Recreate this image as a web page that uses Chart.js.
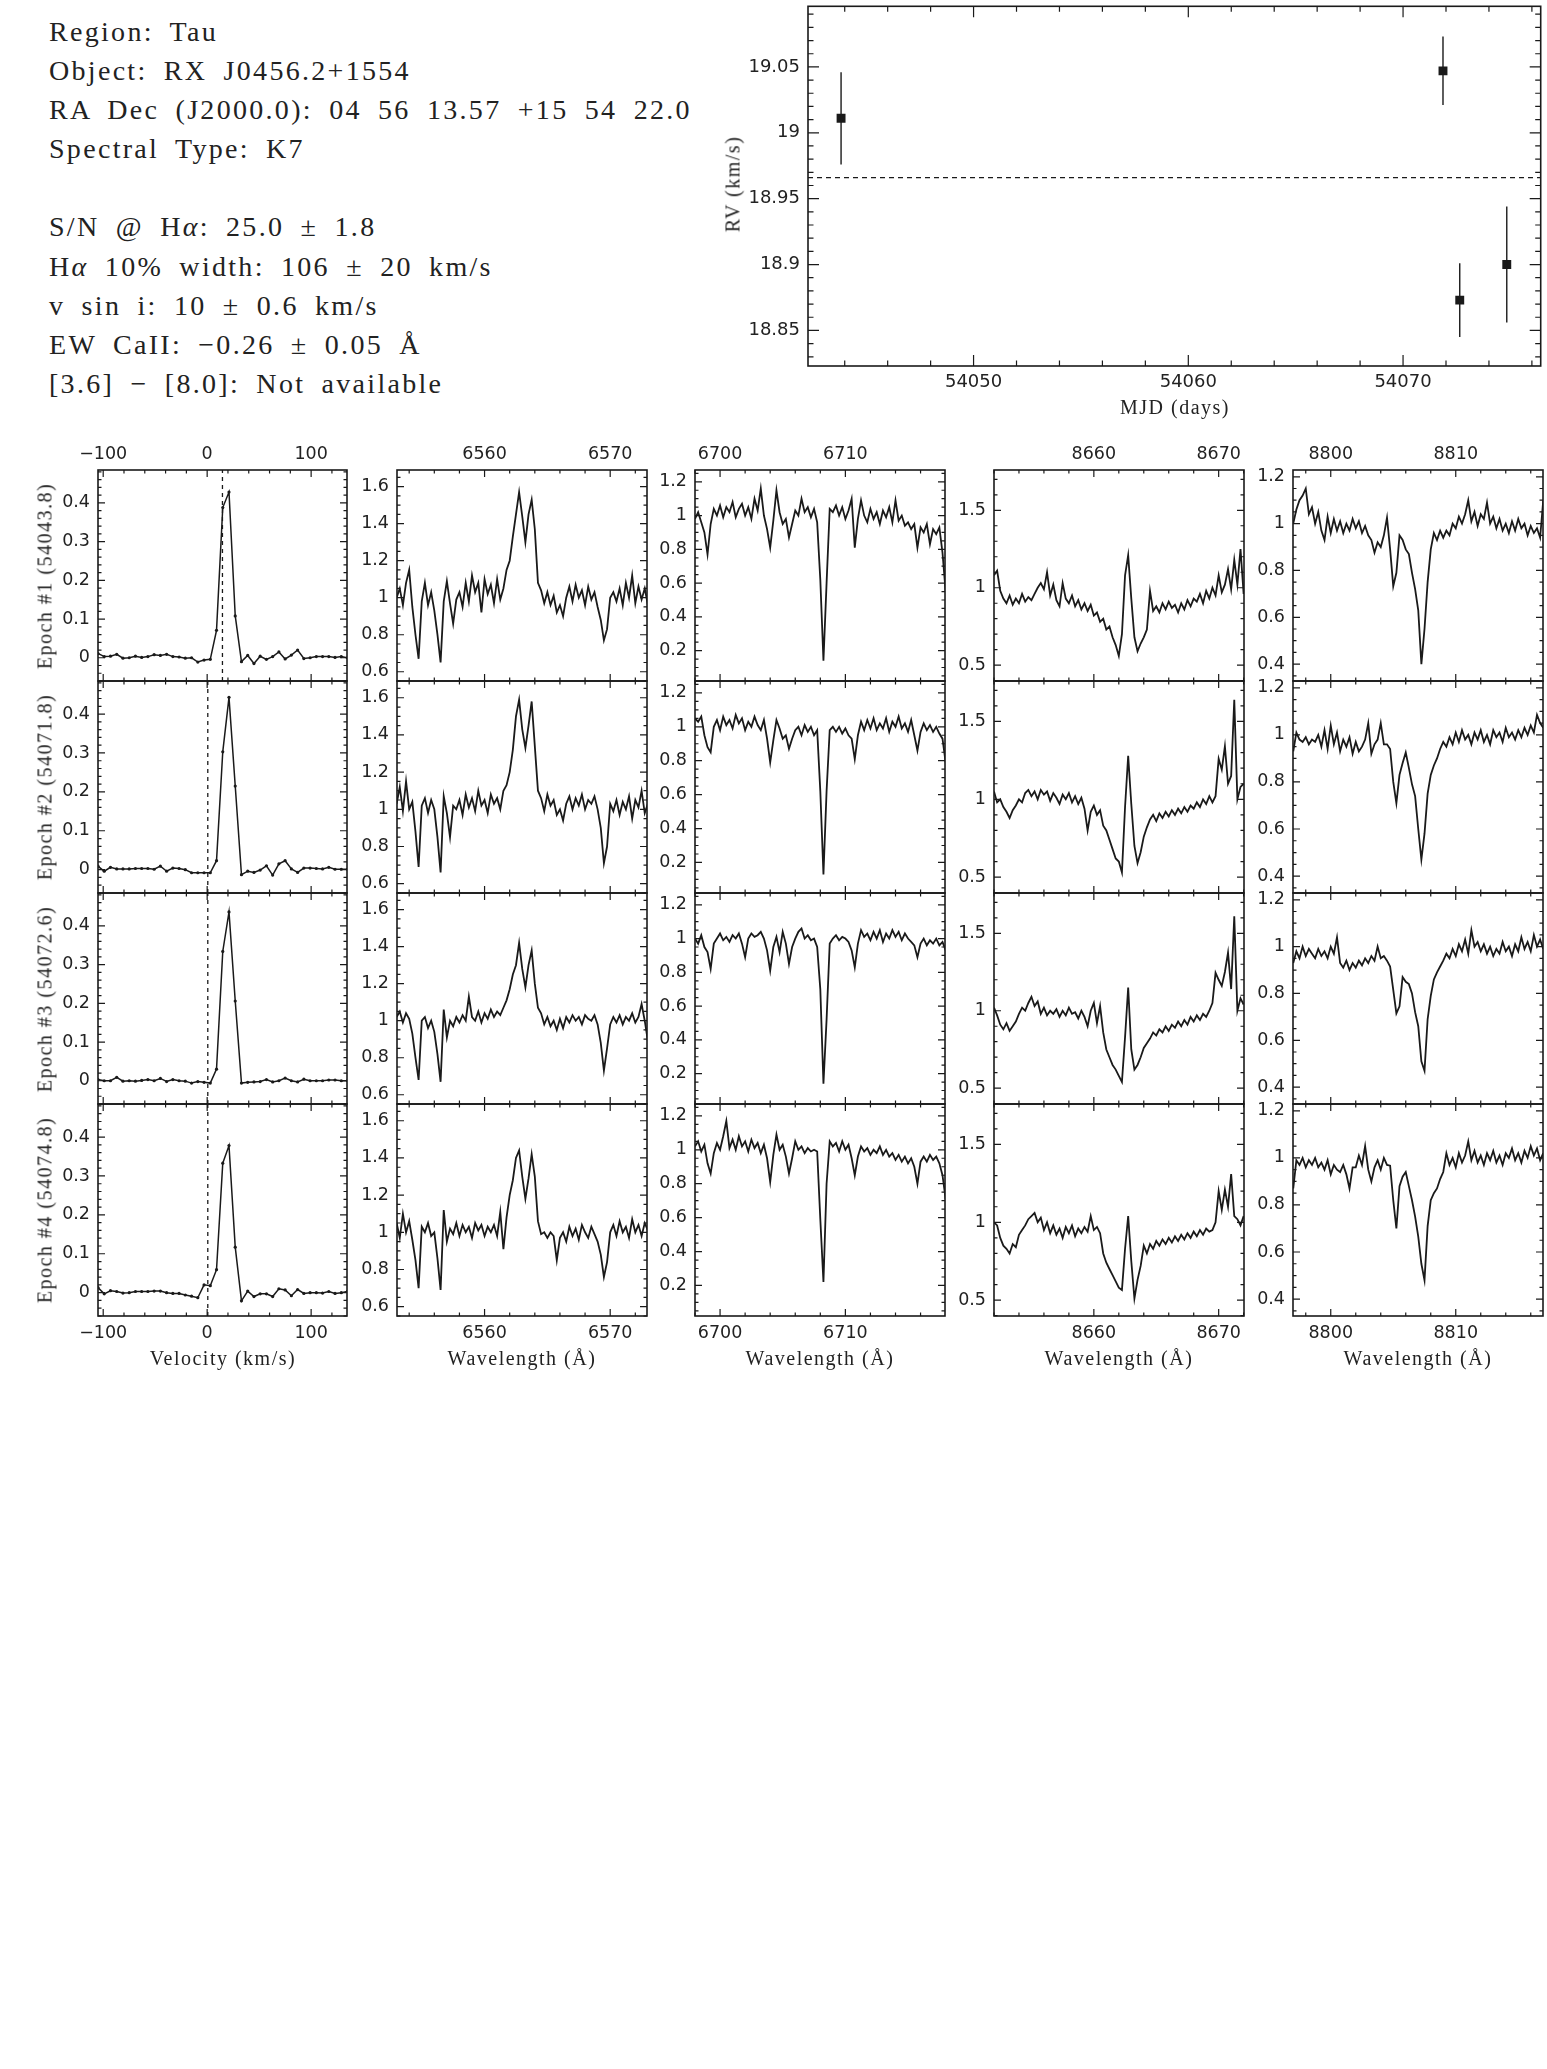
<!DOCTYPE html>
<html>
<head>
<meta charset="utf-8">
<title>RX J0456.2+1554</title>
<script src="https://cdn.jsdelivr.net/npm/chart.js@4.4.1/dist/chart.umd.min.js"></script>
<style>
  body { margin: 0; background: #fff; }
  #page { position: relative; width: 1547px; height: 2069px; overflow: hidden; background: #fff; }
  #page canvas { position: absolute; }
  .info { position: absolute; left: 49px; top: 12px; font-family: 'Liberation Serif', serif; font-size: 28px;
          line-height: 39.1px; letter-spacing: 2.3px; word-spacing: 7px; color: #222; white-space: pre; }
  .title { position: absolute; font-family: 'Liberation Serif', serif; font-size: 20px; letter-spacing: 1.5px;
           color: #222; white-space: nowrap; transform: translate(-50%, -50%); }
  .title.rot { transform: translate(-50%, -50%) rotate(-90deg); }
</style>
</head>
<body>
<div id="page">
<div class="info">Region: Tau
Object: RX J0456.2+1554
RA Dec (J2000.0): 04 56 13.57 +15 54 22.0
Spectral Type: K7

S/N @ H<i>α</i>: 25.0 ± 1.8
H<i>α</i> 10% width: 106 ± 20 km/s
v sin i: 10 ± 0.6 km/s
EW CaII: −0.26 ± 0.05 Å
[3.6] − [8.0]: Not available</div>
</div>
<script>
/* RX J0456.2+1554 – RV curve, CCF and line profiles per epoch */

// ── Radial velocity ───────────────────────────────────────────────
const MJD = [54043.83, 54071.86, 54072.64, 54074.83];
const RV = [19.011, 19.047, 18.873, 18.900];
const RV_ERR = [0.035, 0.026, 0.028, 0.044];
const RV_MEAN = 18.966;
const MJD_TICKS = [54050, 54060, 54070];
const RV_TICKS = [18.85, 18.9, 18.95, 19, 19.05];

const EPOCHS = ['Epoch #1 (54043.8)', 'Epoch #2 (54071.8)', 'Epoch #3 (54072.6)', 'Epoch #4 (54074.8)'];

// ── Cross-correlation functions ───────────────────────────────────
const VEL = [-105, -99, -93, -87, -81, -75, -69, -63, -57, -51, -45, -39, -33, -27, -21, -15, -9, -3, 3, 9,
  15, 21, 27, 33, 39, 45, 51, 57, 63, 69, 75, 81, 87, 93, 99, 105, 111, 117, 123, 129, 135];
const CCF_1 = [0.011, 0.003, 0.004, 0.009, -0.001, 0.000, 0.004, 0.001, 0.003, 0.008, 0.006, 0.009, 0.003, 0.002,
  -0.001, 0.000, -0.011, -0.006, -0.004, 0.071, 0.388, 0.428, 0.108, -0.010, 0.006, -0.015, 0.004, -0.004,
  0.003, 0.015, -0.003, 0.007, 0.020, -0.002, 0.000, 0.003, 0.003, 0.003, 0.001, 0.003, 0.000];
const CCF_2 = [0.009, -0.004, 0.006, 0.002, 0.002, 0.002, 0.003, 0.003, 0.003, 0.001, 0.009, -0.004, 0.004, 0.003,
  0.000, -0.008, -0.008, -0.008, -0.008, 0.023, 0.303, 0.443, 0.215, -0.013, -0.004, -0.007, -0.001, 0.010,
  -0.014, 0.015, 0.023, 0.002, -0.007, 0.004, 0.004, 0.003, 0.002, 0.006, 0.001, 0.001, 0.001];
const CCF_3 = [0.003, 0.000, 0.000, 0.009, -0.001, 0.000, -0.001, 0.001, 0.003, 0.000, 0.006, -0.002, 0.003, 0.000,
  -0.001, -0.006, -0.002, -0.004, -0.006, 0.030, 0.334, 0.436, 0.206, -0.006, -0.004, -0.003, -0.002, 0.003,
  -0.003, 0.000, 0.007, 0.000, -0.003, 0.004, 0.000, 0.000, 0.000, 0.002, 0.002, 0.000, 0.000];
const CCF_4 = [0.013, -0.003, 0.005, 0.003, -0.001, 0.000, 0.003, 0.003, 0.003, 0.004, 0.004, 0.000, -0.002, -0.002,
  -0.006, -0.009, -0.013, 0.020, 0.018, 0.059, 0.333, 0.378, 0.117, -0.021, 0.004, -0.010, -0.003, -0.003,
  -0.010, 0.010, 0.007, -0.008, 0.008, -0.002, 0.000, 0.000, -0.001, 0.003, -0.002, 0.000, 0.003];
const CCF_ZERO = [14.7, 0.6, 0.6, 0.6];
const VEL_TICKS = [-100, 0, 100];
const CCF_TICKS = [0, 0.1, 0.2, 0.3, 0.4];

// ── H alpha ───────────────────────────────────────────────────────
const W_HA = [6553, 6553.25, 6553.5, 6553.75, 6554, 6554.25, 6554.5, 6554.75, 6555, 6555.25,
  6555.5, 6555.75, 6556, 6556.25, 6556.5, 6556.75, 6557, 6557.25, 6557.5, 6557.75,
  6558, 6558.25, 6558.5, 6558.75, 6559, 6559.25, 6559.5, 6559.75, 6560, 6560.25,
  6560.5, 6560.75, 6561, 6561.25, 6561.5, 6561.75, 6562, 6562.25, 6562.5, 6562.75,
  6563, 6563.25, 6563.5, 6563.75, 6564, 6564.25, 6564.5, 6564.75, 6565, 6565.25,
  6565.5, 6565.75, 6566, 6566.25, 6566.5, 6566.75, 6567, 6567.25, 6567.5, 6567.75,
  6568, 6568.25, 6568.5, 6568.75, 6569, 6569.25, 6569.5, 6569.75, 6570, 6570.25,
  6570.5, 6570.75, 6571, 6571.25, 6571.5, 6571.75, 6572, 6572.25, 6572.5, 6572.75, 6573];
const HA_1 = [1.00, 1.05, 0.96, 1.08, 1.15, 0.95, 0.80, 0.67, 0.98, 1.08,
  0.96, 1.03, 0.93, 0.80, 0.65, 0.98, 1.09, 0.97, 0.86, 0.99,
  1.03, 0.95, 1.08, 0.98, 1.12, 1.03, 1.08, 0.92, 1.10, 1.02,
  1.07, 0.97, 1.10, 0.99, 1.05, 1.15, 1.20, 1.33, 1.45, 1.57,
  1.44, 1.30, 1.45, 1.53, 1.37, 1.08, 1.04, 0.97, 1.03, 0.96,
  1.01, 0.92, 0.96, 0.90, 1.00, 1.06, 0.98, 1.07, 1.00, 1.04,
  0.96, 1.06, 0.99, 1.03, 0.95, 0.88, 0.77, 0.83, 1.00, 1.03,
  0.98, 1.05, 0.96, 1.08, 1.00, 1.12, 0.97, 1.06, 0.99, 1.05, 0.96];
const HA_2 = [1.03, 1.12, 0.99, 1.15, 1.00, 1.04, 0.88, 0.69, 1.02, 1.06,
  0.98, 1.05, 1.00, 0.85, 0.66, 1.07, 0.98, 0.85, 1.02, 1.00,
  1.05, 0.97, 1.08, 1.01, 1.06, 0.99, 1.10, 1.02, 1.05, 0.98,
  1.08, 1.03, 1.06, 1.00, 1.10, 1.13, 1.20, 1.32, 1.50, 1.59,
  1.43, 1.33, 1.45, 1.58, 1.34, 1.10, 1.06, 0.99, 1.08, 1.02,
  1.05, 0.97, 1.00, 0.94, 1.03, 1.07, 1.00, 1.06, 1.02, 1.08,
  1.00, 1.05, 1.03, 1.07, 1.00, 0.90, 0.71, 0.80, 1.03, 0.99,
  1.05, 0.97, 1.04, 1.00, 1.07, 0.95, 1.05, 1.01, 1.10, 0.98, 1.03];
const HA_3 = [1.02, 1.05, 0.99, 1.04, 1.01, 0.93, 0.80, 0.68, 1.00, 1.02,
  0.96, 1.00, 0.94, 0.82, 0.67, 1.06, 0.91, 1.00, 0.97, 1.02,
  0.99, 1.03, 1.00, 1.13, 1.02, 1.00, 1.05, 0.99, 1.04, 1.01,
  1.06, 1.02, 1.05, 1.03, 1.07, 1.11, 1.17, 1.25, 1.30, 1.42,
  1.28, 1.18, 1.30, 1.38, 1.20, 1.07, 1.04, 0.98, 1.02, 0.97,
  1.00, 0.95, 1.01, 0.96, 1.02, 0.99, 1.03, 1.00, 1.02, 0.98,
  1.03, 1.01, 1.00, 1.03, 0.98, 0.88, 0.73, 0.85, 0.98, 1.02,
  0.99, 1.03, 0.98, 1.02, 1.00, 1.04, 0.99, 1.02, 1.09, 1.00, 0.89];
const HA_4 = [1.05, 0.97, 1.10, 1.00, 1.06, 0.96, 0.85, 0.70, 1.03, 1.00,
  1.05, 0.98, 1.00, 0.86, 0.69, 1.12, 0.95, 1.02, 0.99, 1.05,
  0.98, 1.04, 1.00, 1.03, 0.97, 1.05, 1.01, 1.04, 0.98, 1.03,
  1.00, 1.04, 0.98, 1.11, 0.91, 1.08, 1.20, 1.28, 1.40, 1.44,
  1.30, 1.18, 1.29, 1.42, 1.30, 1.06, 0.99, 1.00, 0.97, 1.00,
  0.98, 0.85, 0.97, 1.00, 0.95, 1.03, 0.98, 1.02, 0.96, 1.04,
  1.00, 0.97, 1.03, 0.99, 0.95, 0.88, 0.76, 0.84, 1.00, 1.04,
  0.98, 1.06, 1.00, 1.03, 0.97, 1.07, 1.00, 1.04, 0.98, 1.05, 1.01];
const HA_XTICKS = [6560, 6570];
const HA_YTICKS = [0.6, 0.8, 1, 1.2, 1.4, 1.6];

// ── Li I 6708 ─────────────────────────────────────────────────────
const W_LI = [6698, 6698.25, 6698.5, 6698.75, 6699, 6699.25, 6699.5, 6699.75, 6700, 6700.25,
  6700.5, 6700.75, 6701, 6701.25, 6701.5, 6701.75, 6702, 6702.25, 6702.5, 6702.75,
  6703, 6703.25, 6703.5, 6703.75, 6704, 6704.25, 6704.5, 6704.75, 6705, 6705.25,
  6705.5, 6705.75, 6706, 6706.25, 6706.5, 6706.75, 6707, 6707.25, 6707.5, 6707.75,
  6708, 6708.25, 6708.5, 6708.75, 6709, 6709.25, 6709.5, 6709.75, 6710, 6710.25,
  6710.5, 6710.75, 6711, 6711.25, 6711.5, 6711.75, 6712, 6712.25, 6712.5, 6712.75,
  6713, 6713.25, 6713.5, 6713.75, 6714, 6714.25, 6714.5, 6714.75, 6715, 6715.25,
  6715.5, 6715.75, 6716, 6716.25, 6716.5, 6716.75, 6717, 6717.25, 6717.5, 6717.75, 6718];
const LI_1 = [0.98, 1.02, 0.96, 0.90, 0.77, 0.95, 1.04, 1.00, 1.06, 0.99,
  1.05, 1.02, 1.08, 0.99, 1.04, 1.07, 1.00, 1.05, 0.98, 1.10,
  1.03, 1.16, 1.00, 0.92, 0.81, 0.97, 1.15, 1.02, 0.95, 0.98,
  0.87, 0.95, 1.03, 1.00, 1.10, 1.02, 1.05, 0.99, 1.04, 0.96,
  0.62, 0.14, 0.60, 1.04, 1.02, 1.06, 1.00, 1.05, 0.98, 1.03,
  1.10, 0.81, 0.98, 1.09, 1.00, 0.96, 1.04, 0.98, 1.02, 0.95,
  1.03, 0.99, 1.05, 0.96, 1.09, 0.97, 1.00, 0.94, 0.96, 0.92,
  0.95, 0.81, 0.93, 0.90, 0.95, 0.83, 0.92, 0.89, 0.93, 0.78, 0.55];
const LI_2 = [1.05, 1.03, 1.06, 0.95, 0.88, 0.85, 1.00, 1.04, 0.98, 1.06,
  1.01, 1.04, 0.99, 1.07, 1.02, 1.05, 0.98, 1.03, 1.00, 1.06,
  1.01, 0.98, 1.04, 0.93, 0.79, 0.92, 1.04, 0.99, 0.93, 0.95,
  0.87, 0.93, 0.98, 1.00, 0.95, 1.01, 0.97, 1.00, 0.95, 0.98,
  0.62, 0.13, 0.62, 0.98, 1.00, 0.97, 1.00, 0.96, 0.99, 0.95,
  0.93, 0.81, 0.95, 1.03, 0.98, 1.04, 0.99, 1.05, 0.98, 1.02,
  0.99, 1.05, 0.97, 1.03, 1.00, 1.06, 0.99, 1.02, 0.97, 1.04,
  0.95, 0.86, 0.97, 1.02, 0.98, 1.01, 0.97, 1.00, 0.96, 0.93, 0.79];
const LI_3 = [1.00, 0.97, 1.02, 0.95, 0.92, 0.82, 0.97, 1.00, 1.03, 0.99,
  1.01, 0.98, 1.02, 1.00, 1.03, 0.97, 0.89, 1.00, 1.03, 1.01,
  1.02, 1.04, 1.00, 0.93, 0.81, 0.95, 1.01, 0.92, 1.04, 0.97,
  0.85, 0.95, 1.00, 1.04, 1.06, 1.00, 1.02, 0.99, 1.00, 0.95,
  0.70, 0.14, 0.52, 0.97, 1.00, 1.02, 0.99, 1.01, 1.00, 0.98,
  0.93, 0.83, 0.97, 1.05, 1.01, 1.03, 0.99, 1.04, 1.00, 1.05,
  0.98, 1.03, 1.00, 1.05, 1.01, 1.04, 0.99, 1.03, 1.00, 0.98,
  0.96, 0.89, 0.97, 1.00, 0.96, 0.99, 0.97, 1.00, 0.96, 0.98, 0.93];
const LI_4 = [1.02, 1.05, 0.99, 1.03, 0.92, 0.86, 0.98, 1.04, 1.00, 1.08,
  1.17, 1.01, 1.06, 1.00, 1.08, 1.02, 1.05, 0.99, 1.06, 1.01,
  1.04, 0.98, 1.03, 0.95, 0.81, 0.97, 1.09, 1.00, 1.03, 0.96,
  0.86, 0.95, 1.05, 1.00, 1.02, 0.98, 1.01, 0.99, 1.00, 0.99,
  0.59, 0.22, 0.80, 1.05, 1.02, 1.04, 0.99, 1.05, 1.00, 1.03,
  0.95, 0.85, 0.96, 1.02, 0.99, 1.01, 0.97, 1.00, 0.98, 1.02,
  0.97, 1.00, 0.96, 0.98, 0.94, 0.97, 0.93, 0.96, 0.92, 0.95,
  0.90, 0.80, 0.93, 0.96, 0.93, 0.97, 0.94, 0.96, 0.92, 0.85, 0.71];
const LI_XTICKS = [6700, 6710];
const LI_YTICKS = [0.2, 0.4, 0.6, 0.8, 1, 1.2];

// ── Ca II 8662 ────────────────────────────────────────────────────
const W_CA1 = [8652, 8652.25, 8652.5, 8652.75, 8653, 8653.25, 8653.5, 8653.75, 8654, 8654.25,
  8654.5, 8654.75, 8655, 8655.25, 8655.5, 8655.75, 8656, 8656.25, 8656.5, 8656.75,
  8657, 8657.25, 8657.5, 8657.75, 8658, 8658.25, 8658.5, 8658.75, 8659, 8659.25,
  8659.5, 8659.75, 8660, 8660.25, 8660.5, 8660.75, 8661, 8661.25, 8661.5, 8661.75,
  8662, 8662.25, 8662.5, 8662.75, 8663, 8663.25, 8663.5, 8663.75, 8664, 8664.25,
  8664.5, 8664.75, 8665, 8665.25, 8665.5, 8665.75, 8666, 8666.25, 8666.5, 8666.75,
  8667, 8667.25, 8667.5, 8667.75, 8668, 8668.25, 8668.5, 8668.75, 8669, 8669.25,
  8669.5, 8669.75, 8670, 8670.25, 8670.5, 8670.75, 8671, 8671.25, 8671.5, 8671.75, 8672];
const CA1_1 = [1.08, 1.11, 0.98, 0.93, 0.90, 0.95, 0.89, 0.93, 0.90, 0.96,
  0.91, 0.94, 0.92, 0.96, 1.00, 1.03, 0.99, 1.10, 0.95, 1.02,
  0.92, 0.88, 1.03, 0.93, 0.90, 0.95, 0.88, 0.92, 0.86, 0.90,
  0.85, 0.89, 0.82, 0.84, 0.78, 0.80, 0.73, 0.75, 0.68, 0.63,
  0.56, 0.70, 1.08, 1.21, 0.93, 0.68, 0.59, 0.64, 0.68, 0.73,
  0.98, 0.85, 0.88, 0.84, 0.90, 0.86, 0.91, 0.87, 0.89, 0.84,
  0.90, 0.86, 0.92, 0.88, 0.93, 0.91, 0.96, 0.90, 0.98, 0.93,
  1.00, 0.95, 1.08, 0.97, 1.02, 1.12, 0.99, 1.18, 1.02, 1.25, 0.96];
const CA1_2 = [1.05, 0.98, 1.00, 0.95, 0.92, 0.88, 0.93, 0.96, 1.00, 0.98,
  1.04, 1.06, 1.02, 1.05, 1.00, 1.06, 1.03, 1.05, 0.99, 1.04,
  1.01, 0.97, 1.03, 1.00, 1.04, 0.98, 1.02, 0.97, 1.01, 0.94,
  0.80, 0.92, 0.96, 0.90, 0.93, 0.83, 0.80, 0.74, 0.68, 0.62,
  0.60, 0.53, 0.95, 1.28, 0.97, 0.70, 0.59, 0.66, 0.76, 0.82,
  0.87, 0.90, 0.86, 0.91, 0.88, 0.92, 0.89, 0.93, 0.90, 0.94,
  0.91, 0.95, 0.92, 0.96, 0.94, 0.98, 0.95, 1.00, 0.97, 1.02,
  0.98, 1.02, 1.26, 1.19, 1.34, 1.10, 1.15, 1.64, 1.00, 1.08, 1.10];
const CA1_3 = [1.02, 0.97, 0.91, 0.88, 0.92, 0.87, 0.90, 0.93, 0.98, 1.02,
  1.00, 1.05, 1.09, 1.03, 1.06, 0.98, 1.02, 0.97, 1.00, 0.98,
  1.01, 0.96, 1.00, 0.97, 1.02, 0.98, 0.99, 0.95, 1.00, 0.96,
  0.90, 1.00, 1.05, 0.92, 1.03, 0.86, 0.75, 0.70, 0.65, 0.62,
  0.58, 0.54, 0.83, 1.15, 0.75, 0.62, 0.65, 0.70, 0.76, 0.79,
  0.82, 0.86, 0.84, 0.88, 0.86, 0.90, 0.87, 0.91, 0.89, 0.93,
  0.90, 0.94, 0.91, 0.96, 0.93, 0.97, 0.94, 0.98, 0.96, 1.00,
  1.05, 1.245, 1.20, 1.16, 1.25, 1.375, 1.14, 1.61, 1.00, 1.08, 1.04];
const CA1_4 = [1.00, 0.98, 0.90, 0.85, 0.83, 0.80, 0.86, 0.84, 0.92, 0.95,
  0.98, 1.02, 1.04, 1.06, 1.00, 1.03, 0.95, 1.00, 0.93, 0.98,
  0.92, 0.96, 0.90, 0.97, 0.93, 0.98, 0.91, 0.96, 0.93, 0.97,
  0.94, 1.04, 0.95, 0.97, 0.93, 0.80, 0.74, 0.70, 0.66, 0.62,
  0.58, 0.565, 0.83, 1.04, 0.75, 0.51, 0.63, 0.72, 0.85, 0.80,
  0.86, 0.83, 0.88, 0.85, 0.89, 0.86, 0.90, 0.87, 0.91, 0.88,
  0.92, 0.89, 0.93, 0.90, 0.94, 0.91, 0.95, 0.92, 0.96, 0.94,
  0.95, 1.00, 1.20, 1.08, 1.21, 1.10, 1.31, 1.04, 1.02, 0.98, 1.04];
const CA1_XTICKS = [8660, 8670];
const CA1_YTICKS = [0.5, 1, 1.5];

// ── Ca II 8807 region ─────────────────────────────────────────────
const W_CA2 = [8797, 8797.25, 8797.5, 8797.75, 8798, 8798.25, 8798.5, 8798.75, 8799, 8799.25,
  8799.5, 8799.75, 8800, 8800.25, 8800.5, 8800.75, 8801, 8801.25, 8801.5, 8801.75,
  8802, 8802.25, 8802.5, 8802.75, 8803, 8803.25, 8803.5, 8803.75, 8804, 8804.25,
  8804.5, 8804.75, 8805, 8805.25, 8805.5, 8805.75, 8806, 8806.25, 8806.5, 8806.75,
  8807, 8807.25, 8807.5, 8807.75, 8808, 8808.25, 8808.5, 8808.75, 8809, 8809.25,
  8809.5, 8809.75, 8810, 8810.25, 8810.5, 8810.75, 8811, 8811.25, 8811.5, 8811.75,
  8812, 8812.25, 8812.5, 8812.75, 8813, 8813.25, 8813.5, 8813.75, 8814, 8814.25,
  8814.5, 8814.75, 8815, 8815.25, 8815.5, 8815.75, 8816, 8816.25, 8816.5, 8816.75, 8817];
const CA2_1 = [1.00, 1.06, 1.10, 1.12, 1.15, 1.04, 1.07, 1.00, 1.05, 0.97,
  0.93, 1.03, 0.96, 1.02, 0.97, 1.01, 0.96, 1.00, 0.97, 1.02,
  0.98, 1.01, 0.96, 0.99, 0.95, 0.93, 0.876, 0.92, 0.90, 0.95,
  1.026, 0.89, 0.733, 0.79, 0.95, 0.93, 0.89, 0.87, 0.79, 0.72,
  0.63, 0.40, 0.55, 0.75, 0.89, 0.96, 0.93, 0.97, 0.94, 0.97,
  0.95, 1.00, 0.98, 1.03, 1.00, 1.04, 1.10, 1.01, 1.05, 0.99,
  1.04, 1.02, 1.09, 1.00, 1.03, 0.98, 1.02, 0.97, 1.00, 0.96,
  1.01, 0.97, 1.02, 0.98, 1.00, 0.95, 0.99, 0.96, 0.98, 0.94, 1.10];
const CA2_2 = [0.93, 1.01, 0.98, 0.97, 0.99, 0.96, 0.98, 0.97, 1.00, 0.95,
  1.02, 0.94, 1.04, 0.96, 1.01, 0.93, 0.98, 0.95, 0.99, 0.92,
  0.97, 0.93, 0.95, 0.98, 1.05, 0.92, 0.96, 0.98, 1.05, 0.96,
  0.96, 0.94, 0.80, 0.71, 0.83, 0.88, 0.925, 0.86, 0.79, 0.74,
  0.60, 0.47, 0.58, 0.75, 0.83, 0.87, 0.90, 0.94, 0.97, 0.95,
  0.99, 0.96, 1.01, 0.97, 1.02, 0.98, 1.00, 0.96, 1.01, 0.98,
  1.02, 0.97, 1.00, 0.96, 1.02, 0.99, 1.01, 0.97, 1.03, 0.99,
  1.01, 0.98, 1.02, 0.99, 1.03, 1.00, 1.04, 1.01, 1.085, 1.05, 1.03];
const CA2_3 = [0.93, 0.98, 0.95, 1.00, 0.96, 0.99, 0.97, 0.95, 0.99, 0.96,
  0.98, 0.95, 1.00, 0.97, 1.04, 0.93, 0.91, 0.94, 0.90, 0.93,
  0.91, 0.94, 0.92, 0.95, 0.93, 0.96, 0.94, 1.00, 0.95, 0.96,
  0.94, 0.915, 0.815, 0.715, 0.745, 0.87, 0.85, 0.84, 0.80, 0.72,
  0.66, 0.51, 0.47, 0.69, 0.79, 0.86, 0.89, 0.915, 0.94, 0.97,
  0.95, 0.99, 0.96, 1.01, 0.98, 1.03, 0.97, 1.07, 1.00, 1.02,
  0.98, 1.01, 0.97, 1.00, 0.96, 0.99, 0.97, 1.02, 0.98, 1.00,
  0.96, 1.01, 0.98, 1.04, 0.99, 1.02, 0.98, 1.05, 1.00, 1.03, 0.99];
const CA2_4 = [0.87, 0.99, 0.97, 1.00, 0.96, 0.99, 0.97, 1.00, 0.96, 0.98,
  0.95, 0.99, 0.93, 0.97, 0.95, 0.94, 0.97, 0.93, 0.87, 0.96,
  0.96, 1.01, 0.97, 1.05, 0.95, 0.90, 0.96, 0.99, 0.95, 1.00,
  0.97, 0.967, 0.82, 0.70, 0.88, 0.92, 0.94, 0.88, 0.82, 0.75,
  0.665, 0.55, 0.48, 0.71, 0.82, 0.85, 0.87, 0.91, 0.94, 1.02,
  0.97, 1.00, 0.96, 1.02, 0.98, 1.01, 1.07, 0.99, 1.03, 0.98,
  1.01, 0.97, 1.02, 0.99, 1.03, 0.98, 1.01, 0.97, 1.02, 1.00,
  1.04, 0.99, 1.02, 0.98, 1.03, 1.00, 1.05, 1.01, 1.04, 0.99, 1.02];
const CA2_XTICKS = [8800, 8810];
const CA2_YTICKS = [0.4, 0.6, 0.8, 1, 1.2];

// ── Layout ────────────────────────────────────────────────────────
const INK = '#1a1a1a';
const COL_LEFT = [98, 397, 695, 994, 1293];
const COL_W = 250;
const ROW_TOP = [470, 681, 893, 1104, 1316];

Chart.defaults.font.family = "'DejaVu Sans', sans-serif";
Chart.defaults.font.size = 17.5;
Chart.defaults.color = '#222';

const page = document.getElementById('page');
const fmt = v => String(Number(v.toFixed(4))).replace('-', '\u2212');

function makeCanvas(left, top, w, h) {
    const cv = document.createElement('canvas');
    cv.width = w; cv.height = h;
    cv.style.left = left + 'px'; cv.style.top = top + 'px';
    cv.style.width = w + 'px'; cv.style.height = h + 'px';
    page.appendChild(cv);
    return cv;
}

function addTitle(text, cx, cy, rotated) {
    const d = document.createElement('div');
    d.className = rotated ? 'title rot' : 'title';
    d.textContent = text;
    d.style.left = cx + 'px'; d.style.top = cy + 'px';
    page.appendChild(d);
}

// inward tick marks on all four sides + frame (PGPLOT look)
const frameTicks = {
    id: 'frameTicks',
    afterDraw(chart, args, o) {
        const { ctx, chartArea: a, scales: { x, y } } = chart;
        const near = (v, list) => list.some(m => Math.abs(m - v) < 1e-6);
        ctx.save();
        ctx.strokeStyle = INK;
        ctx.lineWidth = 1.2;
        ctx.beginPath();
        const walk = (scale, majors, minor, draw) => {
            majors.forEach(v => draw(scale.getPixelForValue(v), o.big));
            const k0 = Math.ceil(scale.min / minor - 1e-6), k1 = Math.floor(scale.max / minor + 1e-6);
            for (let k = k0; k <= k1; k++) {
                const v = k * minor;
                if (!near(v, majors)) draw(scale.getPixelForValue(v), o.small);
            }
        };
        walk(x, o.xMajor, o.xMinor, (px, len) => {
            ctx.moveTo(px, a.top); ctx.lineTo(px, a.top + len);
            ctx.moveTo(px, a.bottom); ctx.lineTo(px, a.bottom - len);
        });
        walk(y, o.yMajor, o.yMinor, (py, len) => {
            ctx.moveTo(a.left, py); ctx.lineTo(a.left + len, py);
            ctx.moveTo(a.right, py); ctx.lineTo(a.right - len, py);
        });
        ctx.stroke();
        ctx.lineWidth = 1.6;
        ctx.strokeRect(a.left, a.top, a.right - a.left, a.bottom - a.top);
        ctx.restore();
    }
};

// linear axis with fixed box size, no label overhang padding, ticks from a list
function linAxis(min, max, ticks, o) {
    const ax = {
        type: 'linear', min, max,
        display: o.display !== false,
        grid: { display: false, drawTicks: false },
        border: { display: false },
        afterBuildTicks: s => { s.ticks = ticks.map(v => ({ value: v })); },
        afterFit: s => {
            s.paddingTop = 0; s.paddingBottom = 0; s.paddingLeft = 0; s.paddingRight = 0;
            if (o.width !== undefined) s.width = o.width;
            if (o.height !== undefined) s.height = o.height;
        },
        ticks: { autoSkip: false, maxRotation: 0, padding: o.pad, font: { size: o.size || 17.5 }, callback: v => fmt(v) }
    };
    if (o.position) ax.position = o.position;
    return ax;
}

// ── Spectral panels ───────────────────────────────────────────────
const PANELS = [
    { x: VEL, series: [CCF_1, CCF_2, CCF_3, CCF_4], xr: [-105, 134.5], yr: [-0.06, 0.485],
      xt: VEL_TICKS, yt: CCF_TICKS, xMinor: 20, yMinor: 0.02, dots: true, zero: CCF_ZERO, title: 'Velocity (km/s)' },
    { x: W_HA, series: [HA_1, HA_2, HA_3, HA_4], xr: [6553.03, 6572.93], yr: [0.55, 1.69],
      xt: HA_XTICKS, yt: HA_YTICKS, xMinor: 2, yMinor: 0.05, title: 'Wavelength (Å)' },
    { x: W_LI, series: [LI_1, LI_2, LI_3, LI_4], xr: [6698.0, 6717.95], yr: [0.02, 1.27],
      xt: LI_XTICKS, yt: LI_YTICKS, xMinor: 2, yMinor: 0.05, title: 'Wavelength (Å)' },
    { x: W_CA1, series: [CA1_1, CA1_2, CA1_3, CA1_4], xr: [8652.0, 8672.03], yr: [0.398, 1.76],
      xt: CA1_XTICKS, yt: CA1_YTICKS, xMinor: 2, yMinor: 0.1, title: 'Wavelength (Å)' },
    { x: W_CA2, series: [CA2_1, CA2_2, CA2_3, CA2_4], xr: [8796.98, 8816.98], yr: [0.328, 1.229],
      xt: CA2_XTICKS, yt: CA2_YTICKS, xMinor: 2, yMinor: 0.05, title: 'Wavelength (Å)' }
];

PANELS.forEach((col, c) => {
    col.series.forEach((vals, r) => {
        const top = ROW_TOP[r], h = ROW_TOP[r + 1] - top;
        const padL = c === 0 ? 66 : 45, padR = 3;
        const padT = r === 0 ? 32 : 14, padB = r === 3 ? 40 : 14;
        const cv = makeCanvas(COL_LEFT[c] - padL, top - padT, padL + COL_W + padR, padT + h + padB);

        const datasets = [{
            data: col.x.map((x, i) => ({ x, y: vals[i] })),
            borderColor: INK, borderWidth: col.dots ? 1.5 : 1.8, tension: 0,
            pointRadius: col.dots ? 1.6 : 0, pointBackgroundColor: INK, pointBorderWidth: 0
        }];
        if (col.zero) {
            datasets.push({
                data: [{ x: col.zero[r], y: col.yr[0] }, { x: col.zero[r], y: col.yr[1] }],
                borderColor: INK, borderWidth: 1.3, borderDash: [4, 4], pointRadius: 0
            });
        }

        const showX = r === 0 || r === 3;
        new Chart(cv, {
            type: 'line',
            data: { datasets },
            options: {
                responsive: false, animation: false, devicePixelRatio: 1, events: [],
                layout: { padding: { left: 0, right: padR, top: r === 0 ? 0 : padT, bottom: r === 3 ? 0 : padB } },
                scales: {
                    x: linAxis(col.xr[0], col.xr[1], col.xt, {
                        display: showX, position: r === 0 ? 'top' : 'bottom', pad: r === 0 ? 5 : 7,
                        height: showX ? (r === 0 ? padT : padB) : undefined
                    }),
                    y: linAxis(col.yr[0], col.yr[1], col.yt, { pad: 8, width: padL })
                },
                plugins: {
                    legend: { display: false }, tooltip: { enabled: false },
                    frameTicks: { xMajor: col.xt, xMinor: col.xMinor, yMajor: col.yt, yMinor: col.yMinor, big: 7, small: 3.5 }
                }
            },
            plugins: [frameTicks]
        });

        if (c === 0) addTitle(EPOCHS[r], 45, top + h / 2, true);
    });
    addTitle(col.title, COL_LEFT[c] + COL_W / 2, 1358, false);
});

// ── RV vs time ────────────────────────────────────────────────────
const RV_X = [54042.29, 54076.41];
const RV_Y = [18.823, 19.096];
const rvCanvas = makeCanvas(720, 0, 827, 418);
new Chart(rvCanvas, {
    type: 'line',
    data: {
        datasets: [
            { data: [{ x: RV_X[0], y: RV_MEAN }, { x: RV_X[1], y: RV_MEAN }],
              borderColor: INK, borderWidth: 1.3, borderDash: [5, 4], pointRadius: 0 },
            ...MJD.map((m, i) => ({
                data: [{ x: m, y: RV[i] - RV_ERR[i] }, { x: m, y: RV[i] + RV_ERR[i] }],
                borderColor: INK, borderWidth: 1.4, pointRadius: 0
            })),
            { data: MJD.map((m, i) => ({ x: m, y: RV[i] })), showLine: false,
              pointStyle: 'rect', pointRadius: 6.3, pointBackgroundColor: INK, pointBorderWidth: 0 }
        ]
    },
    options: {
        responsive: false, animation: false, devicePixelRatio: 1, events: [],
        layout: { padding: { left: 0, right: 5, top: 2, bottom: 0 } },
        scales: {
            x: linAxis(RV_X[0], RV_X[1], MJD_TICKS, { position: 'bottom', pad: 6, size: 18, height: 52 }),
            y: linAxis(RV_Y[0], RV_Y[1], RV_TICKS, { pad: 8, size: 18, width: 88 })
        },
        plugins: {
            legend: { display: false }, tooltip: { enabled: false },
            frameTicks: { xMajor: MJD_TICKS, xMinor: 2, yMajor: RV_TICKS, yMinor: 0.01, big: 11, small: 5.5 }
        }
    },
    plugins: [frameTicks]
});
addTitle('RV (km/s)', 733, 184, true);
addTitle('MJD (days)', 1175, 407, false);
</script>
</body>
</html>
